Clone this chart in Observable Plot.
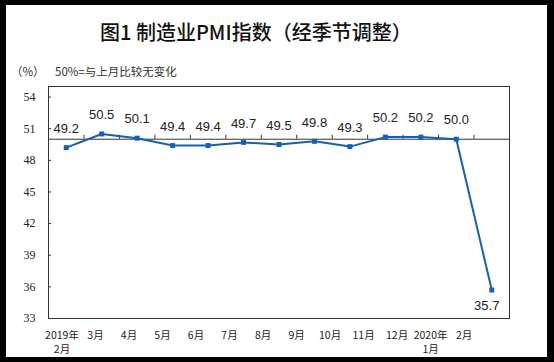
<!DOCTYPE html>
<html>
<head>
<meta charset="utf-8">
<script src="https://cdn.jsdelivr.net/npm/d3@7"></script>
<script src="https://cdn.jsdelivr.net/npm/@observablehq/plot@0.6"></script>
<style>
  html, body { margin: 0; padding: 0; background: #000; }
  #wrap { position: relative; width: 554px; height: 362px; background: #000; overflow: hidden; }
  #paper { position: absolute; left: 6px; top: 5px; width: 541px; height: 352px; background: #fff; }
  #title { position: absolute; left: 100px; top: 20px; font-family: "Noto Sans CJK SC", sans-serif; font-size: 20px; line-height: 24px; font-weight: 500; color: #111; white-space: nowrap; }
  .sub { position: absolute; top: 63px; font-family: "Noto Sans CJK SC", sans-serif; font-size: 11.5px; line-height: 16px; color: #333; white-space: nowrap; }
  #chart { position: absolute; left: 0; top: 80px; }
</style>
</head>
<body>
<div id="wrap">
  <div id="paper"></div>
  <div id="title">图1 制造业PMI指数（经季节调整）</div>
  <div class="sub" style="left:11px">（%）</div>
  <div class="sub" style="left:55px">50%=与上月比较无变化</div>
  <div id="chart"></div>
</div>
<script>
const months = ["2019年\n2月", "3月", "4月", "5月", "6月", "7月", "8月", "9月", "10月", "11月", "12月", "2020年\n1月", "2月"];
const pmi = [49.2, 50.5, 50.1, 49.4, 49.4, 49.7, 49.5, 49.8, 49.3, 50.2, 50.2, 50.0, 35.7];
const yTicks = [33, 36, 39, 42, 45, 48, 51, 54];
const baseline = 50;

const blue = "#1660b0";
const ink = "#222";
const data = pmi.map((v, i) => ({i, month: months[i], v}));
const boundaries = months.slice(1).map((_, k) => k + 0.5);
// tick labels in the reference are laid out slightly tighter than the points
const labelSpread = 0.945, labelShift = -0.12;

const chart = Plot.plot({
  width: 554,
  height: 282,
  marginTop: 6,
  marginBottom: 44,
  marginLeft: 48,
  marginRight: 45,
  style: {background: "transparent"},
  x: {domain: [-0.5, months.length - 0.5], axis: null},
  y: {domain: [33, 55]},
  marks: [
    Plot.ruleY([baseline], {stroke: "#333", strokeWidth: 1}),
    Plot.ruleX(boundaries, {x: d => d, y1: baseline, y2: baseline, insetTop: -4, stroke: "#333"}),
    Plot.ruleY(yTicks, {x1: -0.5, x2: -0.5, insetRight: -3, stroke: "#333"}),
    Plot.axisY(yTicks, {tickSize: 0, tickPadding: 13, fontSize: 12, fontFamily: "Liberation Serif", fill: ink, label: null}),
    Plot.frame({stroke: "#333"}),
    Plot.line(data, {x: "i", y: "v", stroke: blue, strokeWidth: 2}),
    Plot.dot(data, {x: "i", y: "v", symbol: "square", fill: blue, r: 2.8}),
    Plot.text(data.filter(d => d.i < months.length - 1), {x: "i", y: "v", text: d => d.v.toFixed(1), dy: -19, fontSize: 13, fontFamily: "Liberation Sans", fill: ink}),
    Plot.text(data.filter(d => d.i === months.length - 1), {x: "i", y: "v", text: d => d.v.toFixed(1), dy: 16, dx: -5, fontSize: 13, fontFamily: "Liberation Sans", fill: ink}),
    Plot.text(data, {x: d => d.i * labelSpread + labelShift, text: "month", frameAnchor: "bottom", lineAnchor: "top", dy: 11, lineHeight: 1.3, fontSize: 10.5, fontFamily: "Noto Sans CJK SC", fill: ink})
  ]
});
document.getElementById("chart").appendChild(chart);
</script>
</body>
</html>
